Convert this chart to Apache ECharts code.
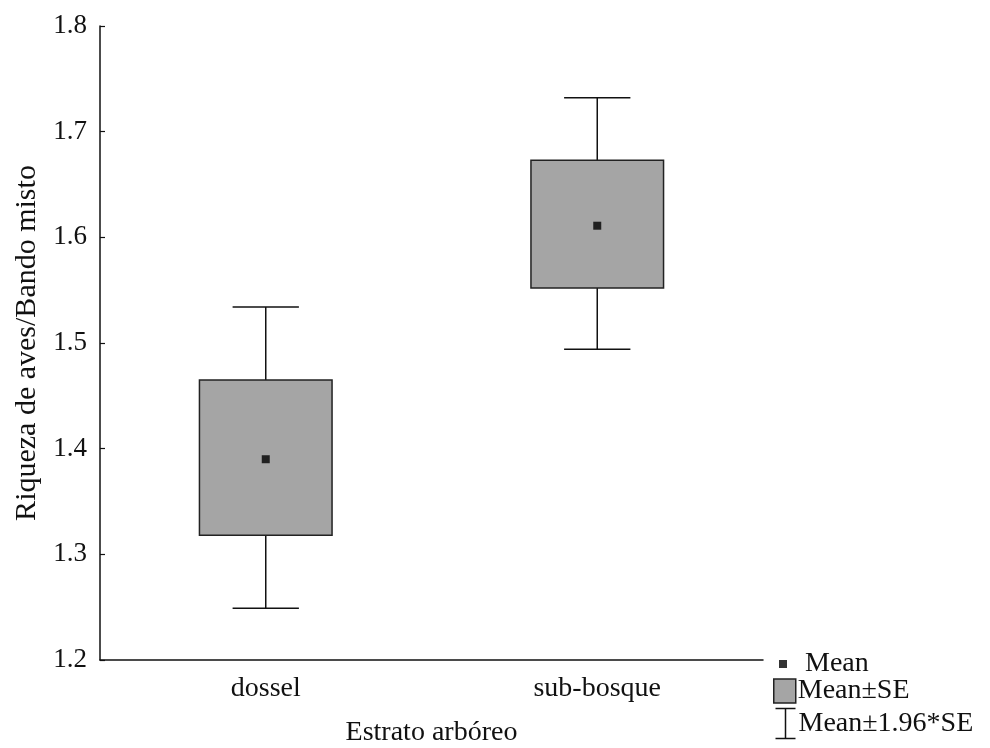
<!DOCTYPE html>
<html>
<head>
<meta charset="utf-8">
<script src="https://cdn.jsdelivr.net/npm/echarts@6/dist/echarts.min.js"></script>
<style>
  html, body { margin: 0; padding: 0; background: #fff; }
  #chart { width: 990px; height: 748px; }
</style>
</head>
<body>
<div id="chart"></div>
<script>
// estrato arbóreo x riqueza de aves
var categories = ['dossel', 'sub-bosque'];
var means = [1.390, 1.611];
var seLow = [1.318, 1.552];
var seHigh = [1.465, 1.673];
var ciLow = [1.249, 1.494];
var ciHigh = [1.534, 1.732];

var FONT = '"Liberation Serif", "Times New Roman", serif';

var chart = echarts.init(document.getElementById('chart'), null, { renderer: 'canvas' });

// whiskers (Mean±1.96*SE)
function renderWhisker(params, api) {
  var i = api.value(0);
  var band = api.size([1, 0])[0];
  var top = api.coord([i, api.value(2)]);
  var bot = api.coord([i, api.value(1)]);
  var cap = band * 0.1;
  var st = { stroke: '#111', lineWidth: 1.5 };
  return {
    type: 'group',
    children: [
      { type: 'line', shape: { x1: top[0], y1: top[1], x2: bot[0], y2: bot[1] }, style: st },
      { type: 'line', shape: { x1: top[0] - cap, y1: top[1], x2: top[0] + cap, y2: top[1] }, style: st },
      { type: 'line', shape: { x1: bot[0] - cap, y1: bot[1], x2: bot[0] + cap, y2: bot[1] }, style: st }
    ]
  };
}

// boxes (Mean±SE)
function renderBox(params, api) {
  var i = api.value(0);
  var band = api.size([1, 0])[0];
  var top = api.coord([i, api.value(2)]);
  var bot = api.coord([i, api.value(1)]);
  var w = band * 0.4;
  return {
    type: 'rect',
    shape: { x: top[0] - w / 2, y: top[1], width: w, height: bot[1] - top[1] },
    style: { fill: '#a5a5a5', stroke: '#222', lineWidth: 1.5 }
  };
}

var ciData = categories.map(function (c, i) { return [i, ciLow[i], ciHigh[i]]; });
var seData = categories.map(function (c, i) { return [i, seLow[i], seHigh[i]]; });
var meanData = categories.map(function (c, i) { return [i, means[i]]; });

var legendText = { fontFamily: FONT, fontSize: 28, lineHeight: 28, color: '#111' };

var option = {
  animation: false,
  backgroundColor: '#fff',
  textStyle: { fontFamily: FONT },
  grid: { left: 100, right: 227, top: 26, bottom: 88, containLabel: false, outerBoundsMode: 'none' },
  legend: [
    {
      data: [{ name: 'Mean', icon: 'rect', itemStyle: { color: '#000' } }],
      left: 779, top: 650, padding: 0, itemWidth: 8, itemHeight: 8,
      textStyle: Object.assign({ padding: [0, 0, 0, 13] }, legendText), selectedMode: false
    },
    {
      data: [{ name: 'Mean±SE', icon: 'rect', itemStyle: { color: '#a5a5a5', borderColor: '#222', borderWidth: 1.5 } }],
      left: 773, top: 677, padding: 0, itemWidth: 22, itemHeight: 24,
      textStyle: Object.assign({ padding: [0, 0, 0, -3] }, legendText), selectedMode: false
    },
    {
      data: [{ name: 'Mean±1.96*SE', icon: 'path://M0,0L20,0M10,0L10,30M0,30L20,30', itemStyle: { color: 'none', borderColor: '#111', borderWidth: 1.5 } }],
      left: 773, top: 706, padding: 0, itemWidth: 20, itemHeight: 31,
      textStyle: Object.assign({ padding: [0, 0, 0, -2] }, legendText), selectedMode: false
    }
  ],
  xAxis: {
    type: 'category',
    data: categories,
    boundaryGap: true,
    name: 'Estrato arbóreo',
    nameLocation: 'middle',
    nameGap: 59,
    nameTextStyle: { fontFamily: FONT, fontSize: 28, color: '#111' },
    axisLine: { lineStyle: { color: '#111', width: 1.5 } },
    axisTick: { inside: true, alignWithLabel: true, length: 5, lineStyle: { color: '#111', width: 1.2 } },
    axisLabel: { margin: 15, fontFamily: FONT, fontSize: 28, color: '#111' },
    splitLine: { show: false }
  },
  yAxis: {
    type: 'value',
    min: 1.2,
    max: 1.8,
    interval: 0.1,
    name: 'Riqueza de aves/Bando misto',
    nameLocation: 'middle',
    nameRotate: 90,
    nameGap: 55,
    nameTextStyle: { fontFamily: FONT, fontSize: 30, color: '#111' },
    axisLine: { show: true, lineStyle: { color: '#111', width: 1.5 } },
    axisTick: { show: true, inside: true, length: 5, lineStyle: { color: '#111', width: 1.2 } },
    axisLabel: { margin: 13, fontFamily: FONT, fontSize: 27, color: '#111', formatter: function (v) { return v.toFixed(1); } },
    splitLine: { show: false }
  },
  series: [
    { name: 'Mean±1.96*SE', type: 'custom', renderItem: renderWhisker, data: ciData, encode: { x: 0, y: [1, 2] }, z: 1 },
    { name: 'Mean±SE', type: 'custom', renderItem: renderBox, data: seData, encode: { x: 0, y: [1, 2] }, z: 2 },
    { name: 'Mean', type: 'scatter', data: meanData, symbol: 'rect', symbolSize: 8, itemStyle: { color: '#000' }, z: 3 }
  ]
};

chart.setOption(option);
</script>
</body>
</html>
